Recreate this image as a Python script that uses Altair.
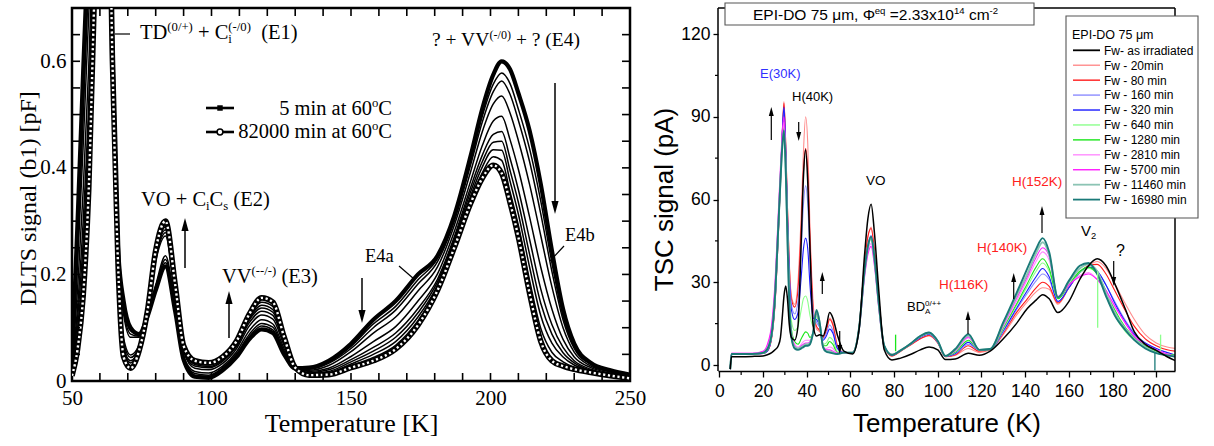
import altair as alt
import pandas as pd

SERIF = "Liberation Serif"
SANS = "Liberation Sans"

# ======================= LEFT PANEL DATA: DLTS (b1) spectra, 5 min ... 82000 min at 60 C
dlts_T = [50, 52, 54, 56, 58, 62, 64.5, 66.5, 68.5, 71,
          74, 77, 80, 83.5, 87, 90, 94, 99, 104, 109,
          113.5, 118, 122, 126, 130, 135, 142, 150, 158, 166,
          174, 181, 187, 193, 197, 201, 204, 207, 210, 214,
          218, 222, 226, 230, 236, 243, 250]
dlts_5min = [0.04, 0.30, 0.58, 0.85, 1.1, 1.3, 0.62, 0.25, 0.15, 0.10,
             0.088, 0.12, 0.17, 0.215, 0.13, 0.04, 0.008, 0.006, 0.02, 0.045,
             0.078, 0.097, 0.09, 0.05, 0.024, 0.025, 0.038, 0.07, 0.115, 0.15,
             0.2, 0.235, 0.31, 0.425, 0.51, 0.575, 0.60, 0.585, 0.54, 0.47,
             0.37, 0.245, 0.135, 0.07, 0.034, 0.02, 0.012]
dlts_t1 = [0.037, 0.274, 0.534, 0.796, 1.06, 1.3, 0.62, 0.25, 0.142, 0.094,
           0.087, 0.122, 0.173, 0.222, 0.134, 0.042, 0.011, 0.009, 0.023, 0.048,
           0.083, 0.103, 0.096, 0.054, 0.024, 0.024, 0.035, 0.065, 0.107, 0.14,
           0.19, 0.23, 0.306, 0.415, 0.496, 0.557, 0.578, 0.558, 0.51, 0.436,
           0.338, 0.222, 0.123, 0.065, 0.032, 0.019, 0.011]
dlts_t2 = [0.034, 0.254, 0.50, 0.757, 1.03, 1.3, 0.615, 0.245, 0.133, 0.088,
           0.084, 0.124, 0.176, 0.228, 0.138, 0.044, 0.014, 0.011, 0.025, 0.051,
           0.087, 0.108, 0.101, 0.056, 0.025, 0.022, 0.033, 0.061, 0.10, 0.133,
           0.182, 0.224, 0.30, 0.408, 0.485, 0.543, 0.563, 0.538, 0.489, 0.412,
           0.314, 0.206, 0.115, 0.061, 0.031, 0.018, 0.011]
dlts_t3 = [0.03, 0.221, 0.441, 0.688, 0.97, 1.3, 0.615, 0.245, 0.125, 0.082,
           0.082, 0.126, 0.18, 0.235, 0.142, 0.046, 0.018, 0.015, 0.028, 0.055,
           0.094, 0.115, 0.107, 0.061, 0.025, 0.02, 0.029, 0.055, 0.09, 0.12,
           0.169, 0.214, 0.292, 0.395, 0.467, 0.52, 0.535, 0.503, 0.451, 0.369,
           0.273, 0.177, 0.10, 0.054, 0.028, 0.017, 0.01]
dlts_t4 = [0.024, 0.173, 0.357, 0.59, 0.90, 1.3, 0.61, 0.24, 0.08, 0.049,
           0.067, 0.13, 0.225, 0.272, 0.16, 0.055, 0.024, 0.021, 0.033, 0.061,
           0.103, 0.124, 0.116, 0.067, 0.025, 0.018, 0.024, 0.046, 0.074, 0.102,
           0.15, 0.201, 0.28, 0.377, 0.441, 0.488, 0.497, 0.453, 0.397, 0.308,
           0.214, 0.135, 0.078, 0.045, 0.025, 0.015, 0.009]
dlts_t5 = [0.02, 0.139, 0.299, 0.522, 0.85, 1.3, 0.61, 0.235, 0.072, 0.044,
           0.064, 0.13, 0.229, 0.278, 0.164, 0.057, 0.028, 0.025, 0.037, 0.065,
           0.109, 0.131, 0.123, 0.072, 0.025, 0.016, 0.021, 0.04, 0.063, 0.09,
           0.136, 0.191, 0.27, 0.365, 0.423, 0.463, 0.468, 0.418, 0.359, 0.266,
           0.173, 0.106, 0.063, 0.038, 0.022, 0.013, 0.008]
dlts_t6 = [0.017, 0.118, 0.261, 0.488, 0.81, 1.3, 0.605, 0.23, 0.065, 0.038,
           0.062, 0.13, 0.233, 0.284, 0.168, 0.059, 0.031, 0.027, 0.039, 0.068,
           0.114, 0.137, 0.129, 0.075, 0.025, 0.015, 0.018, 0.036, 0.056, 0.082,
           0.128, 0.186, 0.265, 0.357, 0.411, 0.448, 0.45, 0.395, 0.335, 0.238,
           0.146, 0.088, 0.053, 0.034, 0.02, 0.013, 0.007]
dlts_t7 = [0.015, 0.098, 0.227, 0.448, 0.78, 1.3, 0.605, 0.228, 0.059, 0.034,
           0.06, 0.13, 0.237, 0.289, 0.171, 0.061, 0.033, 0.03, 0.041, 0.07,
           0.117, 0.142, 0.134, 0.078, 0.025, 0.014, 0.016, 0.032, 0.05, 0.074,
           0.12, 0.18, 0.26, 0.349, 0.401, 0.434, 0.433, 0.375, 0.313, 0.214,
           0.123, 0.071, 0.045, 0.03, 0.019, 0.012, 0.007]
dlts_t8 = [0.012, 0.079, 0.194, 0.409, 0.75, 1.3, 0.60, 0.225, 0.052, 0.029,
           0.058, 0.13, 0.241, 0.294, 0.175, 0.063, 0.036, 0.032, 0.043, 0.073,
           0.121, 0.148, 0.140, 0.080, 0.025, 0.012, 0.014, 0.029, 0.044, 0.067,
           0.113, 0.175, 0.255, 0.342, 0.39, 0.421, 0.414, 0.355, 0.292, 0.189,
           0.099, 0.054, 0.036, 0.026, 0.017, 0.011, 0.006]
dlts_82000min = [0.01, 0.06, 0.16, 0.36, 0.72, 1.3, 0.60, 0.22, 0.045, 0.024,
                 0.056, 0.13, 0.245, 0.30, 0.18, 0.066, 0.038, 0.034, 0.045, 0.075,
                 0.125, 0.156, 0.148, 0.083, 0.025, 0.011, 0.012, 0.025, 0.038, 0.06,
                 0.105, 0.17, 0.25, 0.335, 0.38, 0.405, 0.39, 0.335, 0.27, 0.165,
                 0.075, 0.038, 0.028, 0.022, 0.016, 0.01, 0.005]
dlts_mid = [dlts_t1, dlts_t2, dlts_t3, dlts_t4, dlts_t5, dlts_t6, dlts_t7, dlts_t8]

left_x_ticks = [60, 70, 80, 90, 110, 120, 130, 140, 160, 170, 180, 190, 210, 220, 230, 240, 100, 150, 200]
left_y_ticks = [0.05, 0.1, 0.15, 0.2, 0.25, 0.3, 0.35, 0.4, 0.45, 0.5, 0.55, 0.6, 0.65]

# ======================= RIGHT PANEL DATA: TSC spectra, EPI-DO 75 um
tsc_T = [5, 5.6, 10, 15, 20, 22, 24, 25.5, 27, 28,
         28.8, 29.6, 30.4, 31.2, 32, 33, 34.5, 36, 37.5, 38.5,
         39.5, 40.5, 41.5, 43, 44.5, 46, 47.5, 49, 50.5, 52,
         54, 57, 61, 64, 66.5, 68, 69.5, 71, 73, 75.5,
         79, 83, 88, 92, 96, 100, 103.5, 108, 114, 119,
         124, 130, 136, 141, 145, 148, 151, 155, 160, 165,
         169, 173, 177, 181, 186, 190, 195, 200, 205, 209]
tsc_names = ["Fw- as irradiated", "Fw - 20min", "Fw - 80 min", "Fw - 160 min", "Fw - 320 min",
             "Fw - 640 min", "Fw - 1280 min", "Fw - 2810 min", "Fw - 5700 min",
             "Fw - 11460 min", "Fw - 16980 min"]
tsc_as_irr = [-1.5, 3, 3, 3.1, 3.3, 3.7, 4.5, 5.5, 7, 10,
              17, 25, 28.6, 24, 15, 10, 9, 14, 45, 68,
              78, 66, 42, 14, 10.5, 11, 10.5, 14, 19, 17,
              11, 5, 4, 13, 40, 53, 58.3, 48, 27, 5.5,
              1.8, 2.5, 4, 5.5, 6.5, 5.5, 2, 2.2, 4.3, 3.5,
              5, 9.5, 15, 20.5, 23.5, 25.5, 24, 19, 23, 31,
              36, 38.5, 36, 29.5, 20, 12, 7.5, 5.3, 3, 1.5]
tsc_20 = [-1.5, 4, 4, 4, 4.2, 5, 10, 22, 47, 66,
          83, 95.5, 80, 57, 38, 25, 22, 30, 55, 77,
          90, 80, 50, 22, 13, 12, 10, 13, 17, 15,
          7.5, 4.5, 4.5, 14, 37, 46.5, 50, 42, 24, 7,
          3.2, 5, 7.5, 9.5, 10.5, 8, 3, 3.5, 6, 4.5,
          5.5, 11, 18, 23, 26.5, 28, 27.5, 22, 28, 33.5,
          36, 37.5, 35, 29.5, 22, 16.5, 11, 8, 6.5, 6]
tsc_80 = [-1.5, 4, 4, 4, 4.2, 5, 10, 22, 47, 66,
          83, 95, 80, 57, 37, 24, 21, 27, 50, 70,
          78.5, 70, 46, 20, 14, 12.5, 10, 12.5, 16.5, 14.5,
          7, 4.5, 4.5, 14, 37, 46.5, 49.5, 41.5, 24, 7,
          3.3, 5, 7.5, 9.5, 10.8, 8, 3, 3.7, 7, 5,
          5.5, 11.5, 19, 24, 28, 30, 28.5, 22.5, 28, 33.5,
          36, 36.5, 33, 27, 19.5, 14, 9.5, 7, 5.5, 5]
tsc_160 = [-1.5, 4, 4, 4, 4.2, 5, 10.5, 23, 48, 67,
           83, 93, 78, 55, 35, 22, 18.5, 23, 42, 58,
           65, 58, 39, 19, 15.5, 13.5, 9.5, 11.5, 14.5, 12.5,
           6.5, 4.5, 4.5, 14, 35, 43.5, 47, 39.5, 23, 7,
           3.6, 5.2, 7.8, 10, 11.2, 8.3, 3.2, 4, 7.5, 5.5,
           5.6, 12, 20, 26, 30.5, 33, 31, 23, 28, 33.5,
           35.5, 34, 29, 23, 16, 11.5, 8, 6, 4.5, 3.5]
tsc_320 = [-1.5, 4, 4, 4, 4.2, 5, 10.5, 23, 48, 67,
           84, 93.5, 78, 54, 33, 20, 16.5, 19, 32, 42,
           46, 42, 29, 17, 16.5, 14, 9, 10.5, 13, 11.5,
           6, 4.5, 4.5, 13.5, 34.5, 43, 46.5, 39, 22.5, 7,
           3.6, 5.2, 7.8, 10, 11.3, 8.3, 3.2, 4.2, 8.2, 5.5,
           5.6, 12.5, 20.5, 27, 32, 35, 32, 23, 28, 33.5,
           35.5, 34, 29, 22.5, 15.5, 11, 8, 6, 4.5, 3.5]
tsc_640 = [-1.5, 4, 4, 4, 4.3, 5.5, 11, 24, 49, 68,
           82, 88, 74, 50, 29, 16, 12.5, 14, 20, 24,
           25, 23, 18, 14, 17.5, 14, 7.5, 8, 10, 9,
           5, 4.5, 4.5, 13.5, 34, 42.5, 46, 38.5, 22, 6.8,
           3.8, 5.3, 8, 10.2, 11.4, 8.5, 3.3, 4.5, 8.7, 5.5,
           5.6, 13, 21.5, 28.5, 34, 37, 34, 24, 29, 33.5,
           35, 33, 26, 18, 12, 9, 6.5, 5, 4, 3.5]
tsc_1280 = [-1.5, 4, 4, 4, 4.3, 5.5, 11, 24, 49, 67,
            80, 86, 72, 48, 26, 13, 8.5, 7.5, 9.5, 11,
            12, 11.5, 10, 12, 18.5, 14, 7, 7, 8.5, 7.5,
            4.5, 4.5, 4.5, 13.5, 34, 42.5, 46, 38.5, 22, 6.8,
            3.8, 5.3, 8, 10.3, 11.5, 8.5, 3.3, 4.7, 9, 5.5,
            5.6, 13.5, 22, 29.5, 35.5, 38.5, 35, 24, 29, 34,
            35.5, 33, 27, 20, 13.5, 10, 7, 5, 4, 3.5]
tsc_2810 = [-1.5, 4.2, 4.2, 4.2, 4.8, 7, 14, 28, 53, 70,
            82, 88, 73, 48, 25, 12, 7.5, 6.5, 7.5, 8.5,
            9, 9, 9, 12, 19, 14.5, 6.5, 6, 6.5, 6,
            4.3, 4.5, 4.5, 13, 32.5, 41, 44, 37, 21, 6.5,
            3.8, 5.3, 8, 10.3, 11.5, 8.5, 3.3, 5, 9.8, 5.5,
            5.7, 14, 23, 31, 37.5, 41, 38, 25, 29, 32.5,
            33.5, 31, 26.5, 21, 15, 10.5, 7.5, 5.5, 4, 3]
tsc_5700 = [-1.5, 4.2, 4.2, 4.2, 5, 7.5, 15, 30, 55, 72,
            84, 90, 74, 48, 24, 11, 7, 6, 7, 7.5,
            8, 8, 8.5, 12, 19, 14.5, 6.5, 5.5, 5.5, 5,
            4.2, 4.5, 4.5, 12.5, 32, 40, 43, 36, 20.5, 6.5,
            3.8, 5.3, 8, 10.4, 11.6, 8.5, 3.3, 5.2, 10.2, 5.5,
            5.7, 14.5, 24, 32, 39, 42.5, 39.5, 24.5, 29, 32,
            33, 31, 27, 21.5, 15, 10.5, 7.5, 5.5, 4, 3]
tsc_11460 = [-1.5, 4, 4, 4, 4.4, 5.8, 11.5, 25, 50, 67,
             79, 85, 71, 46, 23, 10.5, 6.5, 6, 6.5, 7,
             7.5, 7.5, 8, 12, 19.5, 15, 6.5, 5, 5, 4.5,
             4, 4.5, 4.5, 13.5, 34, 42.5, 46, 38.5, 22, 6.8,
             3.8, 5.3, 8, 10.5, 11.7, 8.6, 3.3, 5.5, 10.7, 5.5,
             5.8, 15, 25, 33, 40.5, 44.5, 40, 24.5, 30, 35,
             36.5, 34, 26, 19, 13, 9.5, 6.5, 4.5, 3.5, 3]
tsc_16980 = [-1.5, 4, 4, 4, 4.4, 5.8, 11.5, 25, 50, 67,
             79, 85, 71, 46, 23, 10, 6, 5.5, 6, 6.5,
             7, 7, 7.5, 12, 20, 15, 6.5, 4.8, 4.5, 4.2,
             4, 4.5, 4.5, 13.5, 34.5, 43, 46.5, 39, 22.5, 7,
             3.6, 5.3, 8, 10.5, 11.8, 8.7, 3.3, 5.8, 11.2, 5.5,
             5.8, 15.5, 26, 35, 42, 46, 41, 24.5, 30.5, 36,
             37, 33, 25, 18, 12.5, 9, 6, 4.3, 3.5, 3]
tsc_all = [tsc_as_irr, tsc_20, tsc_80, tsc_160, tsc_320, tsc_640, tsc_1280,
           tsc_2810, tsc_5700, tsc_11460, tsc_16980]

# single-point glitches in the measured curves
spike_T = [80.7, 173.2, 199.4, 202.0]
spike_lo = [5, 13.5, -2, 5]
spike_hi = [11, 34, 4.5, 11]
spike_series = ["Fw - 1280 min", "Fw - 640 min", "Fw - 16980 min", "Fw - 640 min"]

right_x_minor = [10, 30, 50, 70, 90, 110, 130, 150, 170, 190]
right_y_minor = [15, 45, 75, 105]

# ======================= styles
TSC_COLOR = {
    "Fw- as irradiated": "#000000", "Fw - 20min": "#ff8c8c", "Fw - 80 min": "#ff1a1a",
    "Fw - 160 min": "#8c8cff", "Fw - 320 min": "#1a1aff", "Fw - 640 min": "#8cff8c",
    "Fw - 1280 min": "#1ae61a", "Fw - 2810 min": "#ff8cff", "Fw - 5700 min": "#ff1aff",
    "Fw - 11460 min": "#8cc4b4", "Fw - 16980 min": "#1a7a78",
}

SERIF_W = {' ': .25, '(': .333, ')': .333, '[': .333, ']': .333, '+': .564, '-': .333, '/': .278,
           '?': .444, 'A': .722, 'B': .667, 'C': .667, 'D': .722, 'E': .611, 'K': .722, 'O': .722,
           'T': .611, 'V': .722, 'a': .444, 'b': .5, 'c': .444, 'e': .444, 'i': .278, 'm': .778,
           'n': .5, 'o': .5, 's': .389, 't': .278}
SANS_W = {' ': .278, '(': .333, ')': .333, '+': .584, '-': .333, '/': .278, '?': .556, '=': .584,
          ',': .278, '.': .278, 'A': .667, 'B': .667, 'D': .722, 'E': .667, 'F': .611, 'H': .722,
          'I': .278, 'K': .667, 'O': .778, 'P': .667, 'V': .667, 'a': .556, 'c': .5, 'd': .556,
          'e': .556, 'i': .222, 'm': .833, 'n': .556, 'q': .556, 'r': .333, 's': .5, 't': .278,
          'w': .722, 'x': .5, 'μ': .576, 'Φ': .778}


def tw(s, table):
    return sum(table.get(c, 0.556 if table is SANS_W else 0.5) for c in s)


def rich(rows, parts, x, y, fs, table, origin, color="black", anchor="left"):
    segs, cx = [], 0.0
    for text, kind in parts:
        if kind == "n":
            size, dy, adv = fs, 0.0, True
        elif kind == "sup":
            size, dy, adv = fs * 0.62, -0.38 * fs, True
        elif kind == "sub":
            size, dy, adv = fs * 0.62, 0.2 * fs, True
        else:  # subscript sharing its x position with the following superscript
            size, dy, adv = fs * 0.62, 0.2 * fs, False
        lead = len(text) - len(text.lstrip(" "))
        segs.append((cx + tw(text[:lead], table) * size, dy, text.strip(" "), size))
        if adv:
            cx += tw(text, table) * size
    x0 = x - cx if anchor == "right" else x
    for sx, dy, t, size in segs:
        if t:
            rows.append({"px": x0 + sx - origin[0], "py": y + dy - origin[1],
                         "txt": t, "fs": size, "col": color})


UP = "M0,-1L0.55,1L-0.55,1Z"
DOWN = "M0,1L0.55,-1L-0.55,-1Z"


def arrow(shafts, heads, x, y_tail, y_tip, r, origin, w=1.5):
    up = y_tip < y_tail
    yc = y_tip + r if up else y_tip - r
    shafts.append({"x": x - origin[0], "y": y_tail - origin[1], "x2": x - origin[0],
                   "y2": yc - origin[1], "w": w, "col": "black"})
    heads.append({"px": x - origin[0], "py": yc - origin[1], "shp": UP if up else DOWN,
                  "sz": (2 * r) ** 2})


def seg(shafts, x1, y1, x2, y2, origin, w=1.2, col="black"):
    shafts.append({"x": x1 - origin[0], "y": y1 - origin[1], "x2": x2 - origin[0],
                   "y2": y2 - origin[1], "w": w, "col": col})


def px_text_layer(rows, font):
    return alt.Chart(pd.DataFrame(rows)).mark_text(align="left", baseline="alphabetic", font=font).encode(
        x=alt.X("px:Q", scale=None), y=alt.Y("py:Q", scale=None), text="txt:N",
        size=alt.Size("fs:Q", scale=None), color=alt.Color("col:N", scale=None))


def px_rule_layer(rows):
    return alt.Chart(pd.DataFrame(rows)).mark_rule().encode(
        x=alt.X("x:Q", scale=None), y=alt.Y("y:Q", scale=None),
        x2="x2:Q", y2="y2:Q", strokeWidth=alt.StrokeWidth("w:Q", scale=None),
        color=alt.Color("col:N", scale=None))


def px_head_layer(rows):
    return alt.Chart(pd.DataFrame(rows)).mark_point(filled=True, color="black", opacity=1).encode(
        x=alt.X("px:Q", scale=None), y=alt.Y("py:Q", scale=None),
        shape=alt.Shape("shp:N", scale=None), size=alt.Size("sz:Q", scale=None))


# ======================= LEFT PANEL
WL, HL = 558, 373
OL = (70, 7)
for c in [dlts_5min, dlts_82000min] + dlts_mid:
    assert len(c) == len(dlts_T)

xsL = alt.Scale(domain=[50, 250], nice=False, zero=False)
ysL = alt.Scale(domain=[0, 0.7], nice=False, zero=False)
axLx = alt.Axis(values=[50, 100, 150, 200, 250], title="Temperature [K]", grid=False, ticks=False,
                tickSize=0, domain=False, labelFont=SERIF, labelFontSize=21, labelColor="black",
                labelPadding=23, labelBaseline="alphabetic", labelFlush=False, labelOverlap=False,
                titleFont=SERIF, titleFontSize=26, titleFontWeight="normal", titleColor="black",
                titleY=50, titleBaseline="alphabetic")
axLy = alt.Axis(values=[0, 0.2, 0.4, 0.6], format=".1~f", title="DLTS signal (b1) [pF]", grid=False,
                ticks=False, tickSize=0, domain=False, labelFont=SERIF, labelFontSize=21,
                labelColor="black", labelPadding=6, labelFlush=False, labelOverlap=False,
                titleFont=SERIF, titleFontSize=24, titleFontWeight="normal", titleColor="black",
                titleX=-37, titleY=190, titleAngle=270, titleBaseline="alphabetic", titleAlign="center")


def XL(f="T"):
    return alt.X(f"{f}:Q", scale=xsL, axis=axLx)


def YL(f="S"):
    return alt.Y(f"{f}:Q", scale=ysL, axis=axLy)


mid_rows = []
for i, c in enumerate(dlts_mid):
    for t, v in zip(dlts_T, c):
        mid_rows.append({"T": t, "S": v, "curve": i})
mid_df = pd.DataFrame(mid_rows)
d5_df = pd.DataFrame({"T": dlts_T, "S": dlts_5min})
d82_df = pd.DataFrame({"T": dlts_T, "S": dlts_82000min})

L_mid = alt.Chart(mid_df).mark_line(color="black", strokeWidth=1.5, interpolate="monotone", clip=True).encode(
    x=XL(), y=YL(), detail="curve:N")
L_5 = alt.Chart(d5_df).mark_line(color="black", strokeWidth=4.2, interpolate="monotone", clip=True).encode(x=XL(), y=YL())
L_82a = alt.Chart(d82_df).mark_line(color="black", strokeWidth=5.6, interpolate="monotone", clip=True).encode(x=XL(), y=YL())
L_82b = alt.Chart(d82_df).mark_line(color="white", strokeWidth=2.4, strokeDash=[2.2, 2.6], interpolate="monotone",
                                    clip=True).encode(x=XL(), y=YL())

tx_df = pd.DataFrame({"T": left_x_ticks})
ty_df = pd.DataFrame({"S": left_y_ticks})
L_tb = alt.Chart(tx_df).mark_rule(color="black", strokeWidth=1.6).encode(x=XL(), y=alt.value(HL), y2=alt.value(HL - 8))
L_tt = alt.Chart(tx_df).mark_rule(color="black", strokeWidth=1.6).encode(x=XL(), y=alt.value(0), y2=alt.value(8))
L_tl = alt.Chart(ty_df).mark_rule(color="black", strokeWidth=1.6).encode(y=YL(), x=alt.value(0), x2=alt.value(8))
L_tr = alt.Chart(ty_df).mark_rule(color="black", strokeWidth=1.6).encode(y=YL(), x=alt.value(WL), x2=alt.value(WL - 8))

ltxt = []
rich(ltxt, [("TD", "n"), ("(0/+)", "sup"), (" + C", "n"), ("i", "sub0"), ("(-/0)", "sup"), ("  (E1)", "n")],
     138, 37.5, 20.5, SERIF_W, OL)
rich(ltxt, [("VO + C", "n"), ("i", "sub"), ("C", "n"), ("s", "sub"), (" (E2)", "n")], 139, 205, 20.5, SERIF_W, OL)
rich(ltxt, [("VV", "n"), ("(--/-)", "sup"), (" (E3)", "n")], 220, 282, 20.5, SERIF_W, OL)
rich(ltxt, [("? + VV", "n"), ("(-/0)", "sup"), (" + ? (E4)", "n")], 430, 45, 19.5, SERIF_W, OL)
rich(ltxt, [("E4a", "n")], 363, 261, 18.5, SERIF_W, OL)
rich(ltxt, [("E4b", "n")], 563, 240, 18.5, SERIF_W, OL)
rich(ltxt, [("5 min at 60", "n"), ("o", "sup"), ("C", "n")], 390, 114, 20.5, SERIF_W, OL, anchor="right")
rich(ltxt, [("82000 min at 60", "n"), ("o", "sup"), ("C", "n")], 390, 137, 20.5, SERIF_W, OL, anchor="right")

lsh, lhd = [], []
for (x, yt, yp) in [(183, 267, 217), (227, 337, 290), (360, 277, 322), (553, 82, 213)]:
    arrow(lsh, lhd, x, yt, yp, 6.5, OL)
seg(lsh, 113, 33, 128, 33, OL)
seg(lsh, 397, 265, 412, 278, OL)
seg(lsh, 562, 245, 548, 260, OL)
seg(lsh, 204, 107, 232, 107, OL, w=2.6)
seg(lsh, 204, 131, 232, 131, OL, w=2.6)

L_sym_f = alt.Chart(pd.DataFrame({"px": [218 - OL[0]], "py": [107 - OL[1]]})).mark_point(
    shape="square", filled=True, color="black", size=30, opacity=1).encode(
    x=alt.X("px:Q", scale=None), y=alt.Y("py:Q", scale=None))
L_sym_o = alt.Chart(pd.DataFrame({"px": [218 - OL[0]], "py": [131 - OL[1]]})).mark_point(
    shape="circle", filled=True, fill="white", stroke="black", strokeWidth=1.5, size=34, opacity=1).encode(
    x=alt.X("px:Q", scale=None), y=alt.Y("py:Q", scale=None))

left = alt.layer(
    L_mid, L_5, L_82a, L_82b, L_tb, L_tt, L_tl, L_tr,
    px_rule_layer(lsh), px_head_layer(lhd), L_sym_f, L_sym_o, px_text_layer(ltxt, SERIF)
).properties(width=WL, height=HL, view=alt.ViewBackground(stroke="black", strokeWidth=2.5))

# ======================= RIGHT PANEL
WR, HR = 457, 363
OR = (715, 7)
XMIN, XMAX = -0.6, 208.6
YMIN, YMAX = -2.175, 129.43
for c in tsc_all:
    assert len(c) == len(tsc_T)

xsR = alt.Scale(domain=[XMIN, XMAX], nice=False, zero=False)
ysR = alt.Scale(domain=[YMIN, YMAX], nice=False, zero=False)
axRx = alt.Axis(values=list(range(0, 201, 20)), title="Temperature (K)", grid=False, ticks=True, tickSize=6,
                tickWidth=1.3, tickColor="black", domain=True, domainColor="black", domainWidth=1.5,
                labelFont=SANS, labelFontSize=17.5, labelColor="black", labelPadding=19,
                labelBaseline="alphabetic", labelFlush=False, labelOverlap=False,
                titleFont=SANS, titleFontSize=26, titleFontWeight="normal", titleColor="black",
                titleY=60, titleBaseline="alphabetic")
axRy = alt.Axis(values=[0, 30, 60, 90, 120], title="TSC signal (pA)", grid=False, ticks=True, tickSize=5,
                tickWidth=1.3, tickColor="black", domain=False, labelFont=SANS, labelFontSize=17.5,
                labelColor="black", labelPadding=3, labelFlush=False, labelOverlap=False,
                titleFont=SANS, titleFontSize=26, titleFontWeight="normal", titleColor="black",
                titleX=-46, titleY=191, titleAngle=270, titleBaseline="alphabetic", titleAlign="center")


def XR(f="T"):
    return alt.X(f"{f}:Q", scale=xsR, axis=axRx)


def YR(f="S"):
    return alt.Y(f"{f}:Q", scale=ysR, axis=axRy)


rrows = []
for name, vals in zip(tsc_names, tsc_all):
    for t, v in zip(tsc_T, vals):
        rrows.append({"T": t, "S": v, "name": name, "col": TSC_COLOR[name]})
rdf = pd.DataFrame(rrows)


def tsc_layer(names, w):
    d = rdf[rdf["name"].isin(names)]
    return alt.Chart(d).mark_line(interpolate="monotone", clip=True, strokeWidth=w).encode(
        x=XR(), y=YR(), detail="name:N", color=alt.Color("col:N", scale=None))


R_thin = tsc_layer(tsc_names[1:9], 1.1)
R_teal = tsc_layer(tsc_names[9:], 1.9)
R_black = tsc_layer(tsc_names[:1], 1.5)

spk = pd.DataFrame({"T": spike_T, "S": spike_lo, "S2": spike_hi,
                    "col": [TSC_COLOR[s] for s in spike_series]})
R_spk = alt.Chart(spk).mark_rule(strokeWidth=1.3).encode(x=XR(), y=YR(), y2="S2:Q", color=alt.Color("col:N", scale=None))

frame = pd.DataFrame({"T": [XMIN, XMIN, XMAX], "S": [YMIN, YMAX, YMIN],
                      "T2": [XMIN, XMAX, XMAX], "S2": [YMAX, YMAX, YMAX]})
R_frame = alt.Chart(frame).mark_rule(color="black", strokeWidth=1.5).encode(x=XR(), y=YR(), x2="T2:Q", y2="S2:Q")
R_tx = alt.Chart(pd.DataFrame({"T": right_x_minor})).mark_rule(color="black", strokeWidth=1.2).encode(
    x=XR(), y=alt.value(HR), y2=alt.value(HR + 4))
R_ty = alt.Chart(pd.DataFrame({"S": right_y_minor})).mark_rule(color="black", strokeWidth=1.2).encode(
    y=YR(), x=alt.value(0), x2=alt.value(-3))

boxes = pd.DataFrame({"x": [722 - OR[0], 1063 - OR[0]], "x2": [1031 - OR[0], 1195 - OR[0]],
                      "y": [2 - OR[1], 15 - OR[1]], "y2": [24 - OR[1], 217 - OR[1]]})
R_box = alt.Chart(boxes).mark_rect(fill="white", stroke="#555555", strokeWidth=1.1).encode(
    x=alt.X("x:Q", scale=None), x2="x2:Q", y=alt.Y("y:Q", scale=None), y2="y2:Q")

rtxt = []
rich(rtxt, [("EPI-DO 75 μm, Φ", "n"), ("eq", "sup"), (" =2.33x10", "n"), ("14", "sup"), (" cm", "n"), ("-2", "sup")],
     750, 19, 15.5, SANS_W, OR)
rich(rtxt, [("EPI-DO 75 μm", "n")], 1069, 37.5, 12.5, SANS_W, OR)
rsh, rhd = [], []
leg_y0, leg_dy = 49.3, 14.93
for i, name in enumerate(tsc_names):
    yc = leg_y0 + i * leg_dy
    seg(rsh, 1070, yc, 1097, yc, OR, w=1.4 if i not in (0, 9, 10) else 1.8, col=TSC_COLOR[name])
    rich(rtxt, [(name, "n")], 1101, yc + 4.4, 12, SANS_W, OR)

BLUE, RED = "#3030ff", "#ff2020"
rich(rtxt, [("E(30K)", "n")], 757, 77, 13, SANS_W, OR, color=BLUE)
rich(rtxt, [("H(40K)", "n")], 789, 100, 13, SANS_W, OR)
rich(rtxt, [("VO", "n")], 863, 184, 13.5, SANS_W, OR)
rich(rtxt, [("BD", "n"), ("A", "sub0"), ("0/++", "sup")], 904, 310, 13, SANS_W, OR)
rich(rtxt, [("H(116K)", "n")], 936, 288, 13.5, SANS_W, OR, color=RED)
rich(rtxt, [("H(140K)", "n")], 974, 251, 13.5, SANS_W, OR, color=RED)
rich(rtxt, [("H(152K)", "n")], 1009, 185, 13.5, SANS_W, OR, color=RED)
rich(rtxt, [("V", "n"), ("2", "sub")], 1078, 235, 15, SANS_W, OR)
rich(rtxt, [("?", "n")], 1113, 255, 16, SANS_W, OR)

for (x, yt, yp) in [(768.3, 139, 106), (795.7, 121, 140), (819.3, 293, 271), (836.7, 330, 353),
                    (965, 333, 310), (1010.7, 298, 272), (1039, 232, 205), (1110.7, 260, 285)]:
    arrow(rsh, rhd, x, yt, yp, 4.5, OR, w=1.2)

right = alt.layer(
    R_thin, R_teal, R_black, R_spk, R_frame, R_tx, R_ty, R_box,
    px_rule_layer(rsh), px_head_layer(rhd), px_text_layer(rtxt, SANS)
).properties(width=WR, height=HR, view=alt.ViewBackground(stroke="transparent", strokeWidth=0))

chart = alt.hconcat(left, right, spacing=4).properties(
    padding={"left": 14, "top": 2, "right": 0, "bottom": 0}, background="white"
).configure_view(strokeWidth=0)

chart.save("out.html", embed_options={"renderer": "svg", "actions": False})
